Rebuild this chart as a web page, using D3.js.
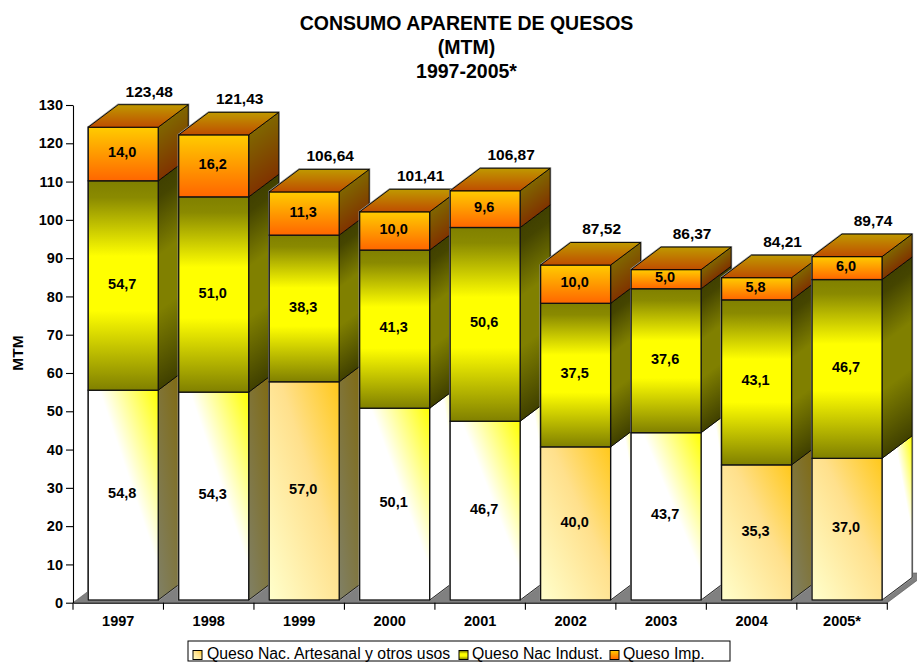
<!DOCTYPE html>
<html>
<head>
<meta charset="utf-8">
<script src="https://cdn.jsdelivr.net/npm/d3@7/dist/d3.min.js"></script>
<style>
  html, body { margin: 0; padding: 0; background: #fff; overflow: hidden; }
  text { font-family: "Liberation Sans", Arial, sans-serif; fill: #000; }
</style>
</head>
<body>
<div id="chart"></div>
<script>
(function() {

  var years = ['1997', '1998', '1999', '2000', '2001', '2002', '2003', '2004', '2005*'];
  var artesanal = [54.8, 54.3, 57.0, 50.1, 46.7, 40.0, 43.7, 35.3, 37.0];
  var industrial = [54.7, 51.0, 38.3, 41.3, 50.6, 37.5, 37.6, 43.1, 46.7];
  var importado = [14.0, 16.2, 11.3, 10.0, 9.6, 10.0, 5.0, 5.8, 6.0];
  var totals = ['123,48', '121,43', '106,64', '101,41', '106,87', '87,52', '86,37', '84,21', '89,74'];
  var yTicks = d3.range(0, 131, 10);
  var titleLines = ['CONSUMO APARENTE DE QUESOS', '(MTM)', '1997-2005*'];

  // the source chart paints some of the first series differently
  var whiteFront = ['1997', '1998', '2000', '2001', '2003'];
  var whiteSide = ['2000', '2001', '2002', '2003', '2005*'];

  var width = 917, height = 662;
  var barWidth = 70, depthX = 30, depthY = 22.5;

  var svg = d3.select('#chart').append('svg')
    .attr('width', width)
    .attr('height', height)
    .style('display', 'block');

  var defs = svg.append('defs');

  function stops(grad, list) {
    list.forEach(function(s) {
      grad.append('stop').attr('offset', s[0]).attr('stop-color', s[1]);
    });
  }

  function bboxGradient(id, x1, y1, x2, y2, list) {
    var g = defs.append('linearGradient').attr('id', id)
      .attr('x1', x1).attr('y1', y1).attr('x2', x2).attr('y2', y2);
    stops(g, list);
  }

  var orangeFront = [[0, '#ffcc00'], [1, '#ff6600']];
  var orangeSide = [[0, '#806600'], [1, '#803300']];
  var yellowFront = [[0, '#808000'], [0.08, '#8a8a00'], [0.36, '#ffff00'], [0.62, '#ffff00'], [1, '#808000']];
  var yellowSide = [[0, '#404000'], [0.08, '#454500'], [0.36, '#808000'], [0.62, '#808000'], [1, '#404000']];

  bboxGradient('impFront', 0, 0, 0, 1, orangeFront);
  bboxGradient('impTop', 0, 0, 0, 1, [[0, '#bf9900'], [1, '#bf4d00']]);
  bboxGradient('indFront', 0, 0, 0, 1, yellowFront);
  bboxGradient('artWhite', 1, 0, 0, 1, [[0, '#ffff00'], [0.42, '#ffffff'], [1, '#ffffff']]);
  bboxGradient('artWhiteSide', 1, 0, 0, 1, [[0, '#ffff00'], [0.3, '#ffffff'], [1, '#ffffff']]);
  bboxGradient('artOrange', 1, 0, 0, 1, [[0, '#ffc81a'], [0.42, '#ffe08c'], [1, '#ffffcc']]);
  bboxGradient('artSide', 1, 0, 0, 1, [[0, '#806600'], [1, '#808066']]);
  bboxGradient('legendImp', 0, 0, 0, 1, orangeFront);
  bboxGradient('legendInd', 0, 0, 0, 1, yellowFront);

  var x = d3.scaleBand().domain(years).range([73, 887.3]);
  var y = d3.scaleLinear().domain([0, 130]).range([602.7, 105]);

  var barShift = (x.step() - barWidth) / 2 + 5;
  var baseGap = 2.7;

  function frontY(v) { return y(v) - baseGap; }

  // floor
  svg.append('polygon')
    .attr('points', [
      [73, y(0)], [887.3, y(0)],
      [887.3 + 39.6, y(0) - 29.7], [73 + 39.6, y(0) - 29.7]
    ].join(' '))
    .attr('fill', '#808080')
    .attr('stroke', '#555')
    .attr('stroke-width', 0.6);

  // side shading has to follow the slanted edges of the face
  function slantGradient(id, x0, top, bottom, list) {
    var g = defs.append('linearGradient').attr('id', id)
      .attr('gradientUnits', 'userSpaceOnUse')
      .attr('x1', x0).attr('y1', top).attr('x2', x0).attr('y2', bottom)
      .attr('gradientTransform', 'translate(' + x0 + ',0) skewY(-36.87) translate(' + (-x0) + ',0)');
    stops(g, list);
  }

  function drawSegment(g, x0, from, to, frontFill, sideFill) {
    var top = frontY(to), bottom = frontY(from), x1 = x0 + barWidth;
    g.append('polygon')
      .attr('points', [
        [x1, top], [x1 + depthX, top - depthY],
        [x1 + depthX, bottom - depthY], [x1, bottom]
      ].join(' '))
      .attr('fill', sideFill)
      .attr('stroke', '#000')
      .attr('stroke-width', 0.8)
      .attr('stroke-linejoin', 'round');
    g.append('rect')
      .attr('x', x0).attr('y', top)
      .attr('width', barWidth).attr('height', bottom - top)
      .attr('fill', frontFill)
      .attr('stroke', '#111')
      .attr('stroke-width', 1.3);
  }

  var bars = svg.selectAll('g.bar')
    .data(years)
    .enter()
    .append('g')
    .attr('class', 'bar');

  bars.each(function(year, i) {
    var g = d3.select(this);
    var x0 = x(year) + barShift, x1 = x0 + barWidth;
    var a = artesanal[i], b = a + industrial[i], c = b + importado[i];

    // soft grey rim round the whole box
    g.append('polygon')
      .attr('points', [
        [x0, frontY(0)], [x0, frontY(c)],
        [x0 + depthX, frontY(c) - depthY], [x1 + depthX, frontY(c) - depthY],
        [x1 + depthX, frontY(0) - depthY], [x1, frontY(0)]
      ].join(' '))
      .attr('fill', 'none')
      .attr('stroke', '#999')
      .attr('stroke-width', 2.2);

    var artFront = whiteFront.indexOf(year) >= 0 ? 'url(#artWhite)' : 'url(#artOrange)';
    var artSide = whiteSide.indexOf(year) >= 0 ? 'url(#artWhiteSide)' : 'url(#artSide)';
    drawSegment(g, x0, 0, a, artFront, artSide);

    slantGradient('indSide' + i, x1, frontY(b), frontY(a), yellowSide);
    drawSegment(g, x0, a, b, 'url(#indFront)', 'url(#indSide' + i + ')');

    slantGradient('impSide' + i, x1, frontY(c), frontY(b), orangeSide);
    drawSegment(g, x0, b, c, 'url(#impFront)', 'url(#impSide' + i + ')');

    g.append('polygon')
      .attr('points', [
        [x0, frontY(c)], [x1, frontY(c)],
        [x1 + depthX, frontY(c) - depthY], [x0 + depthX, frontY(c) - depthY]
      ].join(' '))
      .attr('fill', 'url(#impTop)')
      .attr('stroke', '#000')
      .attr('stroke-width', 0.9)
      .attr('stroke-linejoin', 'round');
  });

  // data labels go last so that no later bar covers them
  var labels = svg.append('g')
    .attr('font-weight', 'bold')
    .attr('text-anchor', 'middle');

  years.forEach(function(year, i) {
    var cx = x(year) + barShift + barWidth / 2 - 1;
    var levels = [0, artesanal[i], artesanal[i] + industrial[i], artesanal[i] + industrial[i] + importado[i]];
    [artesanal[i], industrial[i], importado[i]].forEach(function(v, k) {
      labels.append('text')
        .attr('x', cx)
        .attr('y', (frontY(levels[k]) + frontY(levels[k + 1])) / 2 - 2)
        .attr('dy', '0.35em')
        .attr('font-size', '14.5px')
        .text(v.toFixed(1).replace('.', ','));
    });
    labels.append('text')
      .attr('x', cx + 27)
      .attr('y', frontY(levels[3]) - 36)
      .attr('dy', '0.35em')
      .attr('font-size', '15.5px')
      .text(totals[i]);
  });

  // axes
  var yAxis = svg.append('g')
    .attr('transform', 'translate(73,0)')
    .call(d3.axisLeft(y).tickValues(yTicks).tickSize(7).tickPadding(3).tickSizeOuter(0));

  var xAxis = svg.append('g')
    .attr('transform', 'translate(0,' + y(0) + ')')
    .call(d3.axisBottom(x).tickSize(0).tickPadding(13));

  [yAxis, xAxis].forEach(function(axis) {
    axis.selectAll('text')
      .attr('font-family', null)
      .style('font-size', '14.5px')
      .style('font-weight', 'bold');
    axis.selectAll('path, line').attr('stroke', '#000').attr('stroke-width', 1.1);
  });

  xAxis.selectAll('.edge')
    .data(d3.range(0, years.length + 1))
    .enter()
    .append('line')
    .attr('class', 'edge')
    .attr('x1', function(d) { return 73 + d * x.step(); })
    .attr('x2', function(d) { return 73 + d * x.step(); })
    .attr('y1', 0)
    .attr('y2', 7)
    .attr('stroke', '#000')
    .attr('stroke-width', 1.1);

  svg.append('text')
    .attr('transform', 'translate(23,353) rotate(-90)')
    .attr('text-anchor', 'middle')
    .attr('font-size', '15.5px')
    .attr('font-weight', 'bold')
    .text('MTM');

  // title
  svg.append('g')
    .attr('text-anchor', 'middle')
    .attr('font-size', '19.5px')
    .attr('font-weight', 'bold')
    .selectAll('text')
    .data(titleLines)
    .enter()
    .append('text')
    .attr('x', 466.5)
    .attr('y', function(d, i) { return 29.5 + i * 24.3; })
    .text(function(d) { return d; });

  // legend
  var legendItems = [
    { label: 'Queso Nac. Artesanal y otros usos', fill: 'url(#artOrange)', sx: 193, tx: 207 },
    { label: 'Queso Nac Indust.', fill: 'url(#legendInd)', sx: 459, tx: 472 },
    { label: 'Queso Imp.', fill: 'url(#legendImp)', sx: 610, tx: 623 }
  ];

  var legend = svg.append('g');

  legend.append('rect')
    .attr('x', 188).attr('y', 641)
    .attr('width', 542).attr('height', 20)
    .attr('fill', '#fff')
    .attr('stroke', '#000')
    .attr('stroke-width', 1);

  legendItems.forEach(function(item) {
    legend.append('rect')
      .attr('x', item.sx).attr('y', 650.5)
      .attr('width', 9).attr('height', 9)
      .attr('fill', item.fill)
      .attr('stroke', '#000');
    legend.append('text')
      .attr('x', item.tx).attr('y', 658.5)
      .attr('font-size', '15.8px')
      .text(item.label);
  });

})();
</script>
</body>
</html>
